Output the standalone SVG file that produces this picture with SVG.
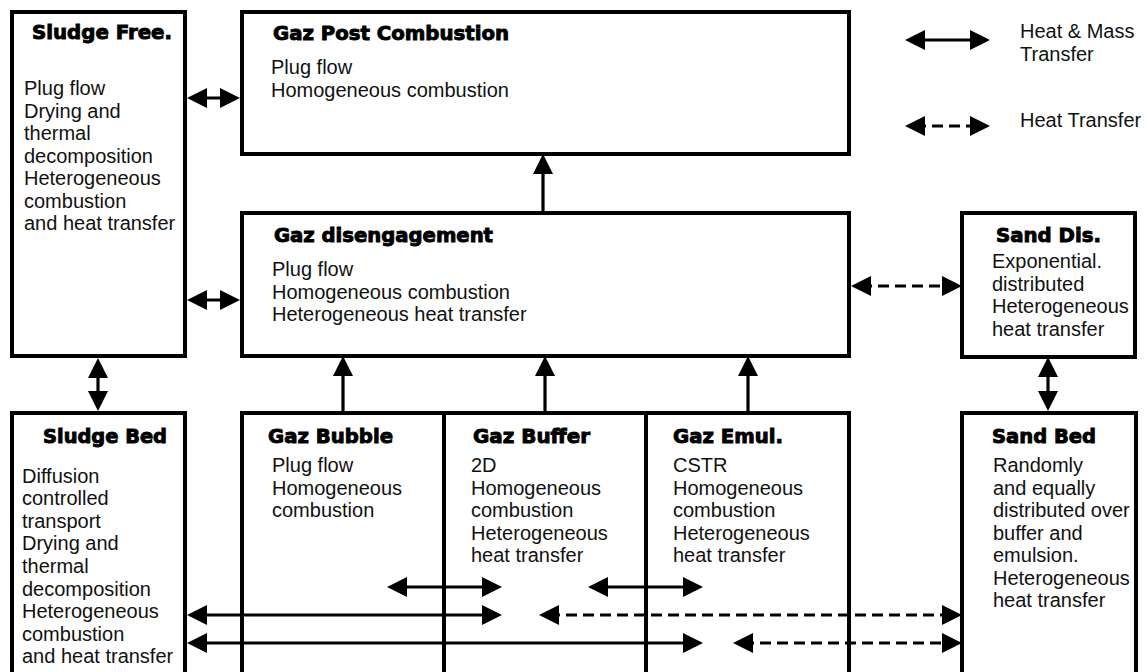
<svg xmlns="http://www.w3.org/2000/svg" width="1148" height="672" viewBox="0 0 1148 672">
<defs>
<marker id="ah" markerUnits="userSpaceOnUse" markerWidth="20" markerHeight="20" viewBox="0 0 20 20" refX="10" refY="10" orient="auto-start-reverse">
<path d="M0,0 L20,10 L0,20 Z" fill="#000"/>
</marker>
<style>
.box{fill:#fff;stroke:#000;stroke-width:4}
.t{font-family:"DejaVu Sans","Liberation Sans",sans-serif;font-weight:bold;font-size:19px;fill:#000;stroke:#000;stroke-width:0.9}
.b{font-family:"Liberation Sans",Arial,sans-serif;font-size:20px;fill:#111}
.s{fill:none;stroke:#000;stroke-width:3.2;marker-start:url(#ah);marker-end:url(#ah)}
.e{fill:none;stroke:#000;stroke-width:3.2;marker-end:url(#ah)}
.d{stroke-dasharray:11 6}
</style>
</defs>
<rect width="1148" height="672" fill="#fff"/>

<g id="sludge-free">
<rect class="box" x="12" y="12" width="173" height="344"/>
<text class="t" x="32" y="39" textLength="140" lengthAdjust="spacingAndGlyphs">Sludge Free.</text>
<text class="b" x="24" y="95">Plug flow</text>
<text class="b" x="24" y="117.5">Drying and</text>
<text class="b" x="24" y="140">thermal</text>
<text class="b" x="24" y="162.5">decomposition</text>
<text class="b" x="24" y="185">Heterogeneous</text>
<text class="b" x="24" y="207.5">combustion</text>
<text class="b" x="24" y="230">and heat transfer</text>
</g>

<g id="gaz-post-combustion">
<rect class="box" x="242" y="12" width="607" height="142"/>
<text class="t" x="273" y="40" textLength="236" lengthAdjust="spacingAndGlyphs">Gaz Post Combustion</text>
<text class="b" x="271" y="74">Plug flow</text>
<text class="b" x="271" y="96.5">Homogeneous combustion</text>
</g>

<g id="gaz-disengagement">
<rect class="box" x="242" y="213" width="607" height="143"/>
<text class="t" x="274" y="242" textLength="219" lengthAdjust="spacingAndGlyphs">Gaz disengagement</text>
<text class="b" x="272" y="276">Plug flow</text>
<text class="b" x="272" y="298.5">Homogeneous combustion</text>
<text class="b" x="272" y="321">Heterogeneous heat transfer</text>
</g>

<g id="sand-dis">
<rect class="box" x="962" y="213" width="173" height="144"/>
<text class="t" x="996" y="242" textLength="105" lengthAdjust="spacingAndGlyphs">Sand Dis.</text>
<text class="b" x="992" y="268">Exponential.</text>
<text class="b" x="992" y="290.5">distributed</text>
<text class="b" x="992" y="313">Heterogeneous</text>
<text class="b" x="992" y="335.5">heat transfer</text>
</g>

<g id="sludge-bed">
<rect class="box" x="12" y="413" width="173" height="270"/>
<text class="t" x="43" y="443" textLength="124" lengthAdjust="spacingAndGlyphs">Sludge Bed</text>
<text class="b" x="22" y="482.5">Diffusion</text>
<text class="b" x="22" y="505.1">controlled</text>
<text class="b" x="22" y="527.7">transport</text>
<text class="b" x="22" y="550.3">Drying and</text>
<text class="b" x="22" y="572.9">thermal</text>
<text class="b" x="22" y="595.5">decomposition</text>
<text class="b" x="22" y="618.1">Heterogeneous</text>
<text class="b" x="22" y="640.7">combustion</text>
<text class="b" x="22" y="663.3">and heat transfer</text>
</g>

<g id="gaz-bubble">
<rect class="box" x="242" y="413" width="202" height="270"/>
<text class="t" x="268" y="443" textLength="125" lengthAdjust="spacingAndGlyphs">Gaz Bubble</text>
<text class="b" x="272" y="472">Plug flow</text>
<text class="b" x="272" y="494.5">Homogeneous</text>
<text class="b" x="272" y="517">combustion</text>
</g>

<g id="gaz-buffer">
<rect class="box" x="444" y="413" width="202" height="270"/>
<text class="t" x="473" y="443" textLength="117" lengthAdjust="spacingAndGlyphs">Gaz Buffer</text>
<text class="b" x="471" y="472">2D</text>
<text class="b" x="471" y="494.5">Homogeneous</text>
<text class="b" x="471" y="517">combustion</text>
<text class="b" x="471" y="539.5">Heterogeneous</text>
<text class="b" x="471" y="562">heat transfer</text>
</g>

<g id="gaz-emul">
<rect class="box" x="646" y="413" width="203" height="270"/>
<text class="t" x="673" y="443" textLength="110" lengthAdjust="spacingAndGlyphs">Gaz Emul.</text>
<text class="b" x="673" y="472">CSTR</text>
<text class="b" x="673" y="494.5">Homogeneous</text>
<text class="b" x="673" y="517">combustion</text>
<text class="b" x="673" y="539.5">Heterogeneous</text>
<text class="b" x="673" y="562">heat transfer</text>
</g>

<g id="sand-bed">
<rect class="box" x="962" y="413" width="174" height="270"/>
<text class="t" x="992" y="443" textLength="104" lengthAdjust="spacingAndGlyphs">Sand Bed</text>
<text class="b" x="993" y="472">Randomly</text>
<text class="b" x="993" y="494.5">and equally</text>
<text class="b" x="993" y="517">distributed over</text>
<text class="b" x="993" y="539.5">buffer and</text>
<text class="b" x="993" y="562">emulsion.</text>
<text class="b" x="993" y="584.5">Heterogeneous</text>
<text class="b" x="993" y="607">heat transfer</text>
</g>

<g id="legend">
<path class="s" d="M915,40 H980"/>
<text class="b" x="1020" y="38">Heat &amp; Mass</text>
<text class="b" x="1020" y="61">Transfer</text>
<path class="s d" d="M915,126 H980"/>
<text class="b" x="1020" y="127">Heat Transfer</text>
</g>

<g id="connectors">
<path class="s" d="M197,98 H230"/>
<path class="s" d="M197,300 H230"/>
<path class="e" d="M543,211 V164"/>
<path class="s d" d="M861,286 H952"/>
<path class="s" d="M98,368 V401"/>
<path class="s" d="M1048,367 V401"/>
<path class="e" d="M343,411 V366"/>
<path class="e" d="M545,411 V366"/>
<path class="e" d="M748,411 V366"/>
<path class="s" d="M397,587 H492"/>
<path class="s" d="M598,587 H693"/>
<path class="s" d="M197,615 H492"/>
<path class="s d" d="M549,615 H952"/>
<path class="s" d="M197,643 H693"/>
<path class="s d" d="M743,643 H952"/>
</g>
</svg>
